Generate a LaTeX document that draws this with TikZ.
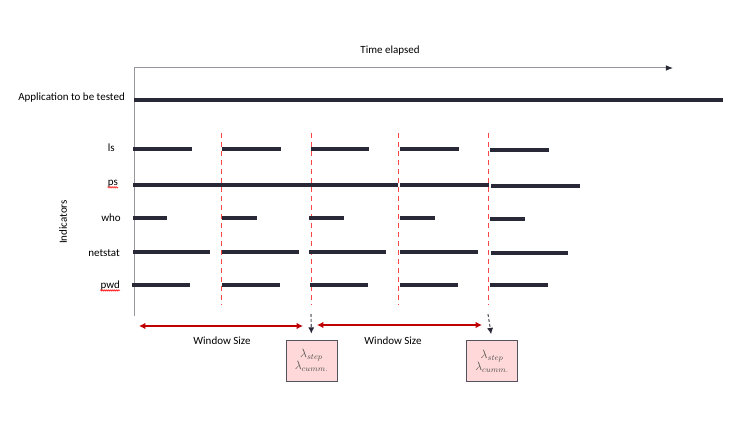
\documentclass[tikz,border=0pt]{standalone}
\usepackage{fontspec}
\setmainfont{Carlito}
\usepackage{tikz}
\usetikzlibrary{arrows.meta,positioning,decorations.pathmorphing}
\definecolor{barcol}{RGB}{40,40,55}
\definecolor{winred}{RGB}{192,0,0}
\definecolor{cutred}{RGB}{250,70,70}
\definecolor{boxpink}{RGB}{255,217,217}
\definecolor{axisgray}{RGB}{150,150,160}
\definecolor{textgray}{RGB}{80,80,80}
\tikzset{
	>={Latex[width=2mm,length=2mm]},
	% styles for the bars and lines
	bar/.style = {line width=4.5pt, draw=barcol},
	axis/.style = {line width=1pt, draw=axisgray},
	cut/.style = {line width=0.8pt, draw=cutred, dash pattern=on 5pt off 4pt},
	win/.style = {line width=1.1pt, draw=winred, {Latex[width=2.2mm,length=2.2mm]}-{Latex[width=2.2mm,length=2.2mm]}},
	stepline/.style = {line width=1.1pt, draw=barcol!75, dash pattern=on 3pt off 2pt,
	-{Latex[width=2.2mm,length=2.2mm,color=barcol]}, shorten >=6pt},
	squiggle/.style = {draw=red, line width=0.5pt, decorate,
	decoration={zigzag, amplitude=0.8pt, segment length=2pt}},
	% styles for the nodes
	rowlab/.style = {anchor=east, inner sep=0pt, text=black},
	lambdabox/.style = {rectangle, fill=boxpink, draw=barcol!80, line width=0.8pt,
	minimum width=51pt, minimum height=41pt, align=center, text=textgray, inner sep=1pt,
	font=\fontsize{12}{13}\selectfont},
}

\begin{document}
\begin{tikzpicture}[x=1pt, y=-1pt, every node/.style={font=\fontsize{11}{13}\selectfont}]
	\useasboundingbox (0,0) rectangle (738,430);
		% time axis
		\coordinate (origin) at (134,68);
		\coordinate (tend) at (673,68);
		\coordinate (ybot) at (134,316);
		\node (time) at (390,51) {Time elapsed};
		\draw[axis, -{Latex[width=2mm,length=2.5mm,color=barcol]}] (origin) -- (tend);
		\draw[axis] (origin) -- (ybot);
		% application
		\node (app)[rowlab] at (125,98) {Application to be tested};
		\draw[bar, line width=4pt] (134,100) -- (723,100);
		% indicators
		\node (ind)[rotate=90] at (63,222) {Indicators};
		\node (ls)[rowlab] at (115,148) {ls};
		\node (ps)[rowlab] at (118,184) {ps};
		\node (who)[rowlab] at (121,218) {who};
		\node (netstat)[rowlab] at (120,253) {netstat};
		\node (pwd)[rowlab] at (120,286) {pwd};
		\draw[squiggle] ([yshift=-1.5pt]ps.base west) -- ([yshift=-1.5pt]ps.base east);
		\draw[squiggle] ([yshift=-1.5pt]pwd.base west) -- ([yshift=-1.5pt]pwd.base east);
		% window cuts
		\draw[cut] (221,133) -- (221,305);
		\draw[cut] (311,133) -- (311,305);
		\draw[cut] (398,133) -- (398,305);
		\draw[cut] (488,133) -- (488,305);
		% ls
		\draw[bar] (133,149) -- (192,149);
		\draw[bar] (222,149) -- (281,149);
		\draw[bar] (311,149) -- (369,149);
		\draw[bar] (400,149) -- (459,149);
		\draw[bar] (490,150) -- (549,150);
		% ps
		\draw[bar] (133,185) -- (398,185);
		\draw[bar] (400,185) -- (489,185);
		\draw[bar] (491,186) -- (580,186);
		% who
		\draw[bar] (133,218) -- (167,218);
		\draw[bar] (222,218) -- (257,218);
		\draw[bar] (309,218) -- (344,218);
		\draw[bar] (400,218) -- (435,218);
		\draw[bar] (490,219) -- (525,219);
		% netstat
		\draw[bar] (133,252) -- (210,252);
		\draw[bar] (222,252) -- (299,252);
		\draw[bar] (309,252) -- (386,252);
		\draw[bar] (400,252) -- (478,252);
		\draw[bar] (491,253) -- (568,253);
		% pwd
		\draw[bar] (132,285) -- (190,285);
		\draw[bar] (222,285) -- (280,285);
		\draw[bar] (310,285) -- (368,285);
		\draw[bar] (400,285) -- (458,285);
		\draw[bar] (490,285) -- (548,285);
		% lambda boxes
		\node (lam1)[lambdabox] at (311.5,360.5) {$\lambda_{step}$\\[-1pt]$\lambda_{cumm.}$};
		\node (lam2)[lambdabox] at (492,361) {$\lambda_{step}$\\[-1pt]$\lambda_{cumm.}$};
		\coordinate (s1) at (311,314);
		\coordinate (s2) at (488,314);
		\draw[stepline] (s1) -- (lam1.north);
		\draw[stepline] (s2) -- (lam2.north);
		% window size arrows
		\coordinate (w1a) at (139,326);
		\coordinate (w1b) at (303,326);
		\coordinate (w2a) at (317,325);
		\coordinate (w2b) at (482,325);
		\draw[win] (w1a) -- (w1b);
		\draw[win] (w2a) -- (w2b);
		\node (ws1) at (222,341) {Window Size};
		\node (ws2) at (393,341) {Window Size};
	\end{tikzpicture}
\end{document}
